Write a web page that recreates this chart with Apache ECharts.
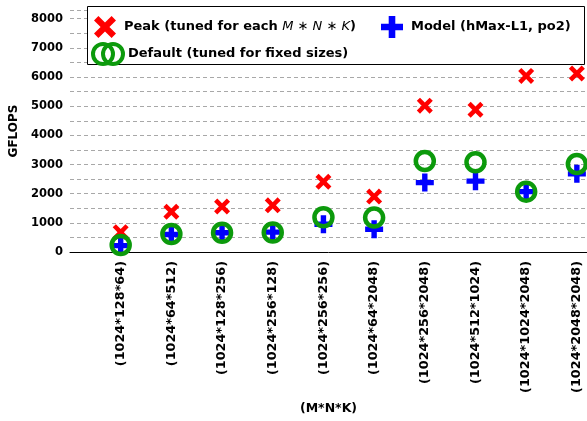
<!DOCTYPE html>
<html>
<head>
<meta charset="utf-8">
<script src="https://cdn.jsdelivr.net/npm/echarts@6/dist/echarts.min.js"></script>
<style>
  html, body { margin: 0; padding: 0; background: #fff; }
  #chart { width: 587px; height: 421px; }
</style>
</head>
<body>
<div id="chart"></div>
<script>
// sizes along the x axis
const categories = [
  "(1024*128*64)", "(1024*64*512)", "(1024*128*256)", "(1024*256*128)", "(1024*256*256)",
  "(1024*64*2048)", "(1024*256*2048)", "(1024*512*1024)", "(1024*1024*2048)", "(1024*2048*2048)"
];
// GFLOPS
const peak = [680, 1380, 1560, 1600, 2410, 1900, 5020, 4880, 6040, 6120];
const model = [220, 600, 660, 680, 950, 780, 2380, 2430, 2070, 2680];
const defaults = [240, 620, 660, 670, 1190, 1180, 3120, 3080, 2070, 3020];
const yTicks = [0, 1000, 2000, 3000, 4000, 5000, 6000, 7000, 8000];

const FONT = "DejaVu Sans";
const xPath = "path://M0,4 L4,0 L10,6 L16,0 L20,4 L14,10 L20,16 L16,20 L10,14 L4,20 L0,16 L6,10 Z";
const plusPath = "path://M7,0 L13,0 L13,7 L20,7 L20,13 L13,13 L13,20 L7,20 L7,13 L0,13 L0,7 L7,7 Z";
const ringsPath = "path://M2,12 A10,10 0 1,0 22,12 A10,10 0 1,0 2,12 Z M12,12 A10,10 0 1,0 32,12 A10,10 0 1,0 12,12 Z";

const toPairs = arr => arr.map((v, i) => [i, v]);

const legendText = { fontFamily: FONT, fontWeight: "bold", fontSize: 13, color: "#000" };

const myChart = echarts.init(document.getElementById("chart"));

const option = {
  animation: false,
  grid: { left: 70, right: 0, top: 10, bottom: 169 },
  xAxis: {
    type: "value",
    min: -1,
    max: 9.2,
    interval: 1,
    name: "(M*N*K)",
    nameLocation: "middle",
    nameGap: 150,
    nameTextStyle: { fontFamily: FONT, fontWeight: "bold", fontSize: 12.5, color: "#000" },
    axisLine: { show: true, lineStyle: { color: "#000", width: 1 } },
    axisTick: { show: false },
    splitLine: { show: false },
    axisLabel: {
      rotate: 90,
      margin: 9,
      fontFamily: FONT,
      fontWeight: "bold",
      fontSize: 12.8,
      color: "#000",
      showMaxLabel: false,
      formatter: v => (Number.isInteger(v) && v >= 0 && v < categories.length ? categories[v] : "")
    }
  },
  yAxis: {
    type: "value",
    min: 0,
    max: 8300,
    interval: 500,
    name: "GFLOPS",
    nameLocation: "middle",
    nameGap: 45,
    nameTextStyle: { fontFamily: FONT, fontWeight: "bold", fontSize: 12, color: "#000" },
    axisLine: { show: false },
    axisTick: { show: false },
    splitLine: { show: true, lineStyle: { color: "#a8a8a8", type: [4, 3], width: 1 } },
    axisLabel: {
      margin: 7,
      fontFamily: FONT,
      fontWeight: "bold",
      fontSize: 11.5,
      color: "#000",
      showMaxLabel: false,
      formatter: v => (yTicks.includes(v) ? String(v) : "")
    }
  },
  graphic: [{
    type: "rect",
    z: 50,
    shape: { x: 87.5, y: 6.5, width: 497, height: 58 },
    style: { fill: "#fff", stroke: "#000", lineWidth: 1 }
  }],
  legend: [
    {
      z: 60,
      left: 89,
      top: 11,
      itemWidth: 28,
      itemHeight: 22,
      itemGap: 0,
      textGap: 3,
      selectedMode: false,
      data: [{ name: "Peak", icon: xPath, itemStyle: { color: "#ff0000", opacity: 1 } }],
      formatter: () => "{b|Peak (tuned for each }{i|M ∗ N ∗ K}{b|)}",
      textStyle: {
        rich: {
          b: legendText,
          i: { fontFamily: FONT, fontStyle: "italic", fontSize: 13, color: "#000" }
        }
      }
    },
    {
      z: 60,
      left: 376,
      top: 11,
      itemWidth: 28,
      itemHeight: 22,
      textGap: 3,
      selectedMode: false,
      data: [{ name: "Model", icon: plusPath, itemStyle: { color: "#0000ff", opacity: 1 } }],
      formatter: () => "Model (hMax-L1, po2)",
      textStyle: legendText
    },
    {
      z: 60,
      left: 86,
      top: 37,
      itemWidth: 30,
      itemHeight: 22,
      textGap: 3,
      selectedMode: false,
      data: [
        { name: "Default", icon: ringsPath,
          itemStyle: { color: "rgba(0,0,0,0)", borderColor: "#0c9a0c", borderWidth: 4, opacity: 1 } }
      ],
      formatter: () => "Default (tuned for fixed sizes)",
      textStyle: legendText
    }
  ],
  series: [
    {
      name: "Peak",
      type: "scatter",
      symbol: xPath,
      symbolSize: 16,
      itemStyle: { color: "#ff0000", opacity: 1 },
      data: toPairs(peak)
    },
    {
      name: "Model",
      type: "scatter",
      symbol: plusPath,
      symbolSize: 18,
      itemStyle: { color: "#0000ff", opacity: 1 },
      data: toPairs(model)
    },
    {
      name: "Default",
      type: "scatter",
      symbol: "circle",
      symbolSize: 18,
      itemStyle: { color: "rgba(0,0,0,0)", borderColor: "#0c9a0c", borderWidth: 4.5, opacity: 1 },
      data: toPairs(defaults)
    }
  ]
};

myChart.setOption(option);
</script>
</body>
</html>
